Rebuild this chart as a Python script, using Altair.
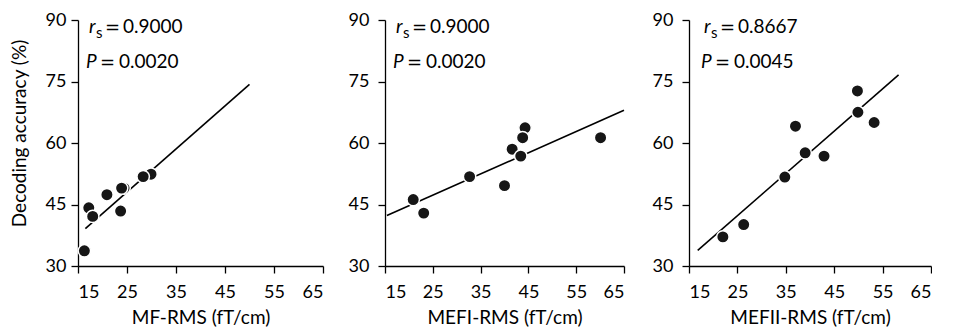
import altair as alt
import pandas as pd

FONT = "Lato"

x_ticks = [15, 25, 35, 45, 55, 65]
y_ticks = [30, 45, 60, 75, 90]
x_titles = ["MF-RMS (fT/cm)", "MEFI-RMS (fT/cm)", "MEFII-RMS (fT/cm)"]
y_title = "Decoding accuracy (%)"
rs_labels = ["0.9000", "0.9000", "0.8667"]
p_labels = ["0.0020", "0.0020", "0.0045"]

# Panel 1: MF-RMS
mf_x = [24.4, 29.9, 16.3, 17.2, 18.0, 20.9, 23.7, 23.9, 28.3]
mf_y = [49.0, 52.4, 33.7, 44.2, 42.1, 47.4, 43.4, 49.0, 51.8]
mf_fit_x = [16.5, 50.0]
mf_fit_y = [39.1, 74.3]

# Panel 2: MEFI-RMS
mefi_x = [20.9, 23.1, 32.7, 40.0, 41.6, 43.4, 44.3, 43.8, 60.1]
mefi_y = [46.2, 42.9, 51.8, 49.6, 58.5, 56.8, 63.7, 61.3, 61.3]
mefi_fit_x = [15.4, 65.0]
mefi_fit_y = [42.3, 68.0]

# Panel 3: MEFII-RMS
mefii_x = [22.0, 26.3, 34.8, 37.0, 39.0, 42.9, 49.8, 49.9, 53.25]
mefii_y = [37.1, 40.1, 51.7, 64.1, 57.6, 56.8, 72.7, 67.5, 65.0]
mefii_fit_x = [16.8, 58.3]
mefii_fit_y = [33.8, 76.6]

panel_widths = [245, 239, 242]
text_offsets = [11, 11, 15]
PANEL_H = 246


def make_panel(i, xs, ys, fx, fy, show_ytitle):
    pts = pd.DataFrame({"x": xs, "y": ys, "order": list(range(len(xs)))})
    fit = pd.DataFrame({"x": fx, "y": fy})
    xscale = alt.Scale(domain=[15, 65], nice=False, zero=False)
    yscale = alt.Scale(domain=[30, 90], nice=False, zero=False)
    xaxis = alt.Axis(values=x_ticks, title=x_titles[i], grid=False)
    if show_ytitle:
        yaxis = alt.Axis(values=y_ticks, title=y_title, grid=False,
                         labelPadding=5, titleY=113)
    else:
        yaxis = alt.Axis(values=y_ticks, title=None, grid=False, labelPadding=9)

    line = alt.Chart(fit).mark_line(color="black", strokeWidth=1.6).encode(
        x=alt.X("x:Q", scale=xscale, axis=xaxis),
        y=alt.Y("y:Q", scale=yscale, axis=yaxis),
    )
    dots = alt.Chart(pts).mark_circle(
        size=155, color="#161616", opacity=1, stroke="white", strokeWidth=1.5
    ).encode(
        x=alt.X("x:Q", scale=xscale),
        y=alt.Y("y:Q", scale=yscale),
        order=alt.Order("order:Q"),
    )

    x0 = text_offsets[i]
    lab = pd.DataFrame({"rs": [rs_labels[i]], "p": [p_labels[i]]})
    base = alt.Chart(lab)
    r_txt = base.mark_text(text="r", font=FONT, fontSize=19, fontStyle="italic",
                           align="left", baseline="alphabetic").encode(
        x=alt.value(x0), y=alt.value(13))
    s_txt = base.mark_text(text="s", font=FONT, fontSize=15,
                           align="left", baseline="alphabetic").encode(
        x=alt.value(x0 + 7), y=alt.value(18))
    eq1 = base.mark_text(text="=", font="DejaVu Sans", fontSize=18,
                         align="left", baseline="alphabetic").encode(
        x=alt.value(x0 + 16), y=alt.value(13))
    rs_val = base.mark_text(font=FONT, fontSize=19,
                            align="left", baseline="alphabetic").encode(
        x=alt.value(x0 + 34), y=alt.value(13), text="rs:N")
    p_txt = base.mark_text(text="P", font=FONT, fontSize=19, fontStyle="italic",
                           align="left", baseline="alphabetic").encode(
        x=alt.value(x0 - 3), y=alt.value(48))
    eq2 = base.mark_text(text="=", font="DejaVu Sans", fontSize=18,
                         align="left", baseline="alphabetic").encode(
        x=alt.value(x0 + 11), y=alt.value(48))
    p_val = base.mark_text(font=FONT, fontSize=19,
                           align="left", baseline="alphabetic").encode(
        x=alt.value(x0 + 30), y=alt.value(48), text="p:N")

    return alt.layer(line, dots, r_txt, s_txt, eq1, rs_val, p_txt, eq2, p_val).properties(
        width=panel_widths[i], height=PANEL_H
    )


p1 = make_panel(0, mf_x, mf_y, mf_fit_x, mf_fit_y, True)
p2 = make_panel(1, mefi_x, mefi_y, mefi_fit_x, mefi_fit_y, False)
p3 = make_panel(2, mefii_x, mefii_y, mefii_fit_x, mefii_fit_y, False)

chart = alt.hconcat(p1, p2, p3, spacing=24).properties(
    padding={"left": 2, "top": 3, "right": 0, "bottom": 0}
).configure_view(stroke=None).configure_axis(
    domainColor="black", domainWidth=1.3, tickColor="black", tickWidth=1.3,
    tickSize=7, labelFont=FONT, labelFontSize=18, labelColor="black",
    titleFont=FONT, titleFontSize=19, titleFontWeight="normal", titleColor="black",
).configure_axisX(labelPadding=10, titlePadding=7).configure_axisY(
    titlePadding=16
)

chart.save("out.html", embed_options={"renderer": "svg", "actions": False})
